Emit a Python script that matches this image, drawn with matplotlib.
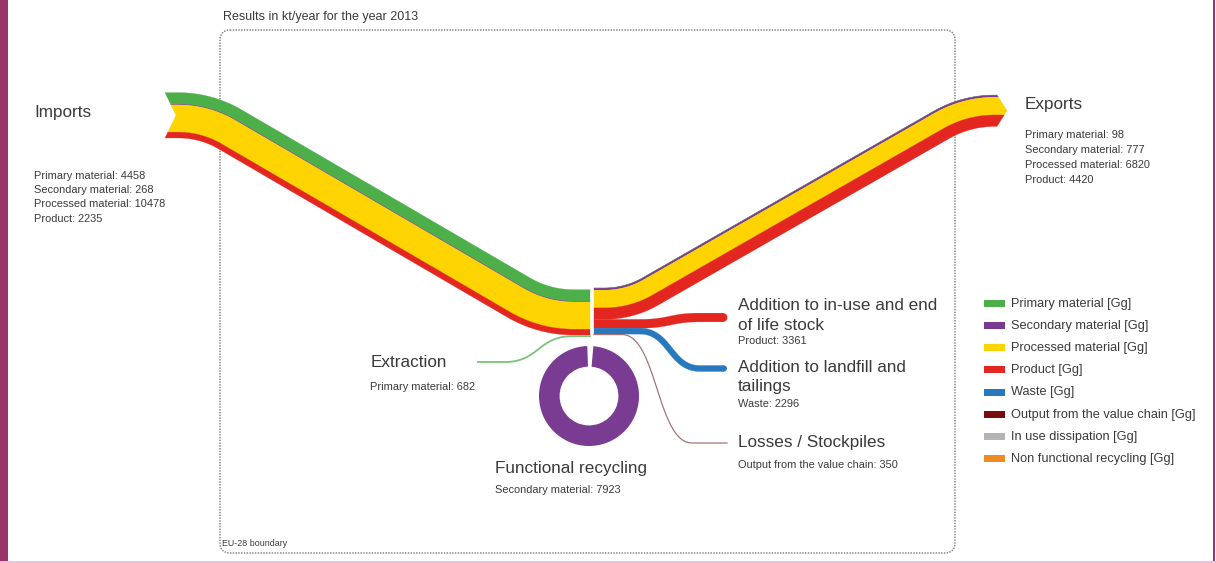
import numpy as np
import matplotlib.pyplot as plt
from matplotlib.patches import Polygon, Wedge, FancyBboxPatch, Rectangle, Circle

plt.rcParams['font.family'] = ['Liberation Sans', 'DejaVu Sans']

# flows in kt/year, year 2013
material_names = ['Primary material', 'Secondary material', 'Processed material', 'Product']
import_values = [4458, 268, 10478, 2235]
export_values = [98, 777, 6820, 4420]
stock_value = 3361        # product -> in-use / end of life stock
waste_value = 2296        # waste -> landfill and tailings
losses_value = 350        # output from the value chain
extraction_value = 682    # primary material
recycling_value = 7923    # secondary material

legend_labels = ['Primary material [Gg]', 'Secondary material [Gg]', 'Processed material [Gg]',
                 'Product [Gg]', 'Waste [Gg]', 'Output from the value chain [Gg]',
                 'In use dissipation [Gg]', 'Non functional recycling [Gg]']
legend_colors = ['#4daf4a', '#7a3b93', '#fdd400', '#e3261f', '#2878be', '#7b0c0c', '#b3b3b3', '#f08a24']
flow_colors = legend_colors[:4]

PX = 0.0026  # pixels per kt
TXT = '#3a3a3a'


def resample(pts, step=1.0):
    pts = np.asarray(pts, float)
    seg = np.hypot(*np.diff(pts, axis=0).T)
    keep = np.concatenate([[True], seg > 1e-9])
    pts = pts[keep]
    s = np.concatenate([[0], np.cumsum(np.hypot(*np.diff(pts, axis=0).T))])
    si = np.linspace(0, s[-1], max(int(s[-1] / step), 2))
    return np.column_stack([np.interp(si, s, pts[:, 0]), np.interp(si, s, pts[:, 1])])


def corner_path(pts, radius, n=40):
    pts = np.asarray(pts, float)
    out = [pts[0]]
    q = np.linspace(0, 1, n)[:, None]
    for i in range(1, len(pts) - 1):
        p0, p1, p2 = pts[i - 1], pts[i], pts[i + 1]
        u_in = (p1 - p0) / np.linalg.norm(p1 - p0)
        u_out = (p2 - p1) / np.linalg.norm(p2 - p1)
        a, b = p1 - u_in * radius[i - 1], p1 + u_out * radius[i - 1]
        out.extend((1 - q) ** 2 * a + 2 * (1 - q) * q * p1 + q ** 2 * b)
    out.append(pts[-1])
    return resample(out)


def link_path(p0, x_a, x_b, p1, n=60):
    # horizontal, S-bend, horizontal
    a = np.array([x_a, p0[1]])
    b = np.array([x_b, p1[1]])
    xm = (x_a + x_b) / 2
    c1, c2 = np.array([xm, a[1]]), np.array([xm, b[1]])
    q = np.linspace(0, 1, n)[:, None]
    bez = (1 - q) ** 3 * a + 3 * (1 - q) ** 2 * q * c1 + 3 * (1 - q) * q ** 2 * c2 + q ** 3 * b
    return resample(np.vstack([[p0], bez, [p1]]))


def draw_band(ax, center, widths, colors, notch=0.0, arrow=0.0):
    c = center
    t = np.gradient(c, axis=0)
    t /= np.hypot(t[:, 0], t[:, 1])[:, None]
    nrm = np.column_stack([t[:, 1], -t[:, 0]])
    W = sum(widths)
    edges = np.concatenate([[0], np.cumsum(widths)])
    for d0, d1, col in zip(edges[:-1], edges[1:], colors):
        ds = [d0] + ([W / 2] if d0 < W / 2 < d1 else []) + [d1]
        top = c + nrm * (W / 2 - d0)
        bot = c + nrm * (W / 2 - d1)
        start = [c[0] + nrm[0] * (W / 2 - d) - t[0] * notch * abs(2 * d / W - 1) for d in ds[::-1]]
        end = [c[-1] + nrm[-1] * (W / 2 - d) + t[-1] * arrow * (1 - abs(2 * d / W - 1)) for d in ds]
        poly = np.vstack([start, top, end, bot[::-1]])
        ax.add_patch(Polygon(poly, closed=True, fc=col, ec=col, lw=0.2, zorder=3))


fig = plt.figure(figsize=(12.16, 5.63), dpi=100)
ax = fig.add_axes([0, 0, 1, 1])
ax.set_xlim(0, 1216)
ax.set_ylim(563, 0)
ax.axis('off')

# page frame
ax.add_patch(Rectangle((0, 0), 8, 563, color='#9b3567', lw=0))
ax.add_patch(Rectangle((1212.5, 0), 2.5, 563, color='#9b3567', lw=0))
ax.add_patch(Rectangle((0, 560.5), 1216, 2.5, color='#f2bfdc', lw=0))

# EU-28 boundary
ax.add_patch(FancyBboxPatch((220, 30), 735, 523, boxstyle='round,pad=0,rounding_size=10',
                            fill=False, ec='#777777', lw=1.0, ls=(0, (1, 1)), zorder=1))
ax.text(223, 20, 'Results in kt/year for the year 2013', fontsize=9, color=TXT)
ax.text(222, 546, 'EU-28 boundary', fontsize=6.4, color=TXT)

# junction
y_join = 335
x_in, x_out = 590, 594
imp_w = [v * PX for v in import_values]
exp_w = [v * PX for v in export_values]
stock_w, waste_w, loss_w = stock_value * PX, waste_value * PX, losses_value * PX

# imports
yc_in = y_join - sum(imp_w) / 2
imp_path = corner_path([(176, 115.3), (206, 115.3), (544, yc_in), (x_in, yc_in)], [28, 30])
draw_band(ax, imp_path, imp_w, flow_colors, notch=11)

# exports
yc_out = y_join - loss_w - waste_w - stock_w - sum(exp_w) / 2
exp_path = corner_path([(x_out, yc_out), (629, yc_out), (966, 110.7), (997, 110.7)], [25, 29])
draw_band(ax, exp_path, exp_w, flow_colors, arrow=10)

# addition to stock
yc = y_join - loss_w - waste_w - stock_w / 2
p = link_path((x_out, yc), 640, 700, (723, 317.5))
draw_band(ax, p, [stock_w], [flow_colors[3]])
ax.add_patch(Circle(p[-1], stock_w / 2, color=flow_colors[3], lw=0, zorder=3))

# addition to landfill
yc = y_join - loss_w - waste_w / 2
p = link_path((x_out, yc), 640, 700, (724, 368.5))
draw_band(ax, p, [waste_w], [legend_colors[4]])
ax.add_patch(Circle(p[-1], waste_w / 2, color=legend_colors[4], lw=0, zorder=3))

# losses
p = link_path((x_out, y_join - loss_w / 2), 622, 692, (727, 443))
ax.plot(p[:, 0], p[:, 1], color='#a27676', lw=max(losses_value * PX * 0.72, 0.9), zorder=3)

# extraction
p = link_path((478, 362), 505, 572, (x_in, y_join + 1.2))
ax.plot(p[:, 0], p[:, 1], color='#79c279', lw=extraction_value * PX * 0.72, zorder=3)

# functional recycling loop
ax.add_patch(Wedge((589, 396), 50, 275, 628, width=recycling_value * PX, color=flow_colors[1], lw=0, zorder=3))

# labels
ax.text(34, 117, 'Imports', fontsize=12.3, color=TXT)
for i, (name, v) in enumerate(zip(material_names, import_values)):
    ax.text(34, 179 + 14.2 * i, f'{name}: {v}', fontsize=7.9, color=TXT)
ax.text(1025, 109.3, 'Exports', fontsize=12.3, color=TXT)
for i, (name, v) in enumerate(zip(material_names, export_values)):
    ax.text(1025, 138.3 + 15 * i, f'{name}: {v}', fontsize=7.9, color=TXT)

ax.text(738, 310, 'Addition to in-use and end', fontsize=12.3, color=TXT)
ax.text(738, 330, 'of life stock', fontsize=12.3, color=TXT)
ax.text(738, 344, f'Product: {stock_value}', fontsize=7.9, color=TXT)
ax.text(738, 371.7, 'Addition to landfill and', fontsize=12.3, color=TXT)
ax.text(738, 390.5, 'tailings', fontsize=12.3, color=TXT)
ax.text(738, 407.3, f'Waste: {waste_value}', fontsize=7.9, color=TXT)
ax.text(738, 447.3, 'Losses / Stockpiles', fontsize=12.3, color=TXT)
ax.text(738, 468.3, f'Output from the value chain: {losses_value}', fontsize=7.9, color=TXT)
ax.text(370.5, 367.3, 'Extraction', fontsize=12.3, color=TXT)
ax.text(370.5, 390, f'Primary material: {extraction_value}', fontsize=7.9, color=TXT)
ax.text(495, 473.3, 'Functional recycling', fontsize=12.3, color=TXT)
ax.text(495, 493.3, f'Secondary material: {recycling_value}', fontsize=7.9, color=TXT)

# legend
for i, (lab, col) in enumerate(zip(legend_labels, legend_colors)):
    y = 303.3 + 22.2 * i
    ax.add_patch(Rectangle((984, y - 3.5), 21, 7, color=col, lw=0))
    ax.text(1011, y + 3.3, lab, fontsize=9.2, color=TXT)

fig.savefig('out.png', dpi=100)
